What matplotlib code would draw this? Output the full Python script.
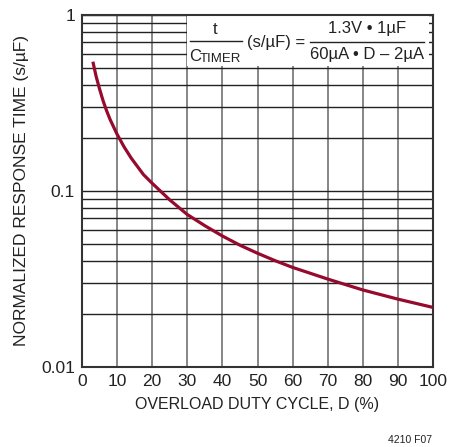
import matplotlib
matplotlib.use('Agg')
import matplotlib.pyplot as plt
from matplotlib.ticker import FixedLocator, NullFormatter

# values
duty_cycle = [3.1, 4, 5, 6, 7, 8, 10, 12, 14, 17.5, 20, 25, 30, 35, 40, 45, 50,
              55, 60, 70, 80, 90, 100]
response_time = [0.543, 0.45, 0.38, 0.326, 0.286, 0.255, 0.21, 0.178, 0.154, 0.124, 0.1106,
                 0.089, 0.0735, 0.0635, 0.0555, 0.0492, 0.0443, 0.0402, 0.0368,
                 0.0316, 0.0274, 0.0243, 0.0218]

x_ticks = list(range(0, 101, 10))
y_ticks = [0.01, 0.1, 1]
y_tick_labels = ['0.01', '0.1', '1']
y_minor = [m * d for d in (0.01, 0.1) for m in range(2, 10)]

FONT = ['Liberation Sans Narrow', 'Liberation Sans', 'DejaVu Sans']
plt.rcParams['font.family'] = FONT

fig = plt.figure(figsize=(4.53, 4.47), dpi=100)
ax = fig.add_axes([82 / 453, 80 / 447, 351 / 453, 352 / 447])

ax.set_yscale('log')
ax.set_xlim(0, 100)
ax.set_ylim(0.01, 1)

ax.xaxis.set_major_locator(FixedLocator(x_ticks))
ax.yaxis.set_major_locator(FixedLocator(y_ticks))
ax.yaxis.set_minor_locator(FixedLocator(y_minor))
ax.yaxis.set_minor_formatter(NullFormatter())
ax.set_yticklabels(y_tick_labels)
ax.tick_params(which='both', length=0, labelsize=12.5, colors='#222222', pad=5)

ax.grid(True, which='major', axis='y', color='#222222', linewidth=1.0)
ax.grid(True, which='minor', axis='y', color='#222222', linewidth=1.0)
ax.xaxis.grid(True, color='#666666', linewidth=1.1)
for s in ax.spines.values():
    s.set_color('#333333')
    s.set_linewidth(1.5)

ax.plot(duty_cycle, response_time, color='#960a2d', linewidth=2.3,
        solid_capstyle='butt', zorder=3)

ax.set_xlabel('OVERLOAD DUTY CYCLE, D (%)', fontsize=11.5, color='#222222', labelpad=6)
ax.set_ylabel('NORMALIZED RESPONSE TIME (s/µF)', fontsize=12.5, color='#222222', labelpad=9)

# equation box in the top decade
def px(x, y):
    return (x - 82) / 351, (367 - y) / 352

bx0, by0 = px(187, 66)
bx1, by1 = px(429, 15)
ax.add_patch(plt.Rectangle((bx0, by0), bx1 - bx0, by1 - by0, transform=ax.transAxes,
                           facecolor='white', edgecolor='none', zorder=2.5))

tkw = dict(transform=ax.transAxes, fontsize=12, color='#222222', zorder=4)
ax.text(*px(215, 30), 't', ha='center', va='center', **tkw)
ax.plot([px(190, 0)[0], px(242, 0)[0]], [px(0, 41)[1]] * 2, transform=ax.transAxes,
        color='#222222', linewidth=1.0, zorder=4)
ax.text(*px(189, 61), 'C', ha='left', va='baseline', **tkw)
ax.text(*px(200, 62), 'TIMER', ha='left', va='baseline', transform=ax.transAxes,
        fontsize=9.5, color='#222222', zorder=4)
ax.text(*px(247, 42), '(s/µF) =', ha='left', va='center', **tkw)
ax.text(*px(367, 29), '1.3V • 1µF', ha='center', va='center', **tkw)
ax.plot([px(310, 0)[0], px(424, 0)[0]], [px(0, 42)[1]] * 2, transform=ax.transAxes,
        color='#222222', linewidth=1.0, zorder=4)
ax.text(*px(367, 54), '60µA • D – 2µA', ha='center', va='center', **tkw)

fig.text(410 / 453, 1 - 440 / 447, '4210 F07', ha='center', va='center',
         fontsize=7.5, color='#222222')

fig.savefig('out.png', dpi=100, facecolor='white')
